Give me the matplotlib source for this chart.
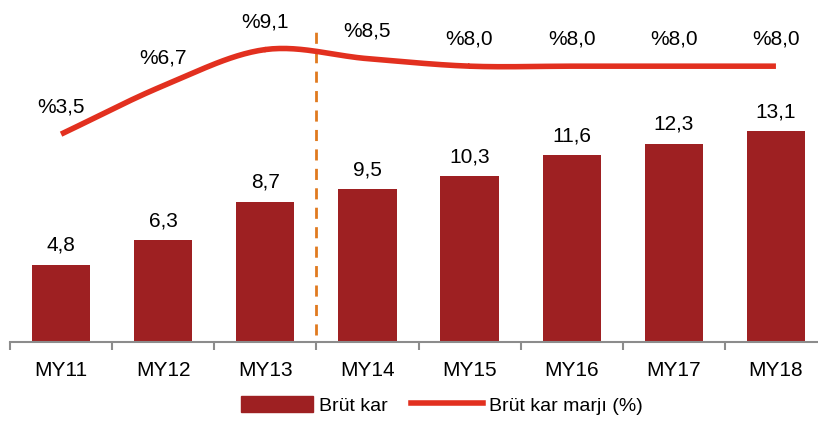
import numpy as np
import matplotlib.pyplot as plt
from matplotlib.lines import Line2D
from matplotlib.patches import Patch

plt.rcParams['font.family'] = ['Liberation Sans', 'DejaVu Sans']

years = ['MY11', 'MY12', 'MY13', 'MY14', 'MY15', 'MY16', 'MY17', 'MY18']
brut_kar = [4.8, 6.3, 8.7, 9.5, 10.3, 11.6, 12.3, 13.1]
marj = [3.5, 6.7, 9.1, 8.5, 8.0, 8.0, 8.0, 8.0]
bar_labels = ['4,8', '6,3', '8,7', '9,5', '10,3', '11,6', '12,3', '13,1']
marj_labels = ['%3,5', '%6,7', '%9,1', '%8,5', '%8,0', '%8,0', '%8,0', '%8,0']

bar_color = '#9E2022'
line_color = '#E2301F'


def smooth(x, y, n=30):
    # catmull-rom style smoothing like excel's smoothed line
    x = np.asarray(x, float)
    y = np.asarray(y, float)
    px = np.concatenate([[2 * x[0] - x[1]], x, [2 * x[-1] - x[-2]]])
    py = np.concatenate([[2 * y[0] - y[1]], y, [2 * y[-1] - y[-2]]])
    xs, ys = [], []
    t = np.linspace(0, 1, n)
    for i in range(1, len(px) - 2):
        for p, out in ((px, xs), (py, ys)):
            p0, p1, p2, p3 = p[i - 1], p[i], p[i + 1], p[i + 2]
            out.extend(0.5 * (2 * p1 + (-p0 + p2) * t
                              + (2 * p0 - 5 * p1 + 4 * p2 - p3) * t ** 2
                              + (-p0 + 3 * p1 - 3 * p2 + p3) * t ** 3))
    return np.array(xs), np.array(ys)


W, H = 818, 422
fig = plt.figure(figsize=(W / 100, H / 100), dpi=100)
left, right, bottom, top = 10, 827, 80, 417
ax = fig.add_axes([left / W, bottom / H, (right - left) / W, (top - bottom) / H])
x = np.arange(len(years))

ax.bar(x, brut_kar, width=0.57, color=bar_color, zorder=2)
for xi, v, lab in zip(x, brut_kar, bar_labels):
    ax.annotate(lab, (xi, v), xytext=(0, 7), textcoords='offset points',
                ha='center', va='bottom', fontsize=15)
ax.set_xlim(-0.5, 7.5)
ax.set_ylim(0, 20.9)

ax2 = ax.twinx()
sx, sy = smooth(x, marj)
ax2.plot(sx, sy, color=line_color, lw=4, solid_capstyle='butt', zorder=3)
for xi, v, lab in zip(x, marj, marj_labels):
    ax2.annotate(lab, (xi, v), xytext=(0, 13), textcoords='offset points',
                 ha='center', va='bottom', fontsize=15)
ax2.set_ylim(-10.26, 12.05)

ax.axvline(2.5, ymin=0.02, ymax=0.93, color='#E07A1F', lw=2, ls=(0, (4, 3)), zorder=4)

for a in (ax, ax2):
    for s in ('top', 'right', 'left'):
        a.spines[s].set_visible(False)
    a.set_yticks([])
ax.spines['bottom'].set_color('#8C8C8C')
ax.spines['bottom'].set_linewidth(1.5)
ax2.spines['bottom'].set_visible(False)

ax.set_xticks(x)
ax.set_xticklabels(years, fontsize=15)
ax.tick_params(axis='x', length=0, pad=14)
ax.set_xticks(np.arange(-0.5, 8, 1), minor=True)
ax.tick_params(axis='x', which='minor', length=6, width=1.5, color='#8C8C8C')

handles = [Patch(color=bar_color), Line2D([], [], color=line_color, lw=4)]
fig.legend(handles, ['Brüt kar', 'Brüt kar marjı (%)'], loc='center',
           bbox_to_anchor=(0.54, 0.04), ncol=2, frameon=False, fontsize=14,
           handlelength=3.7, handleheight=0.9, columnspacing=1.2, handletextpad=0.3)

fig.savefig('out.png', dpi=100)
